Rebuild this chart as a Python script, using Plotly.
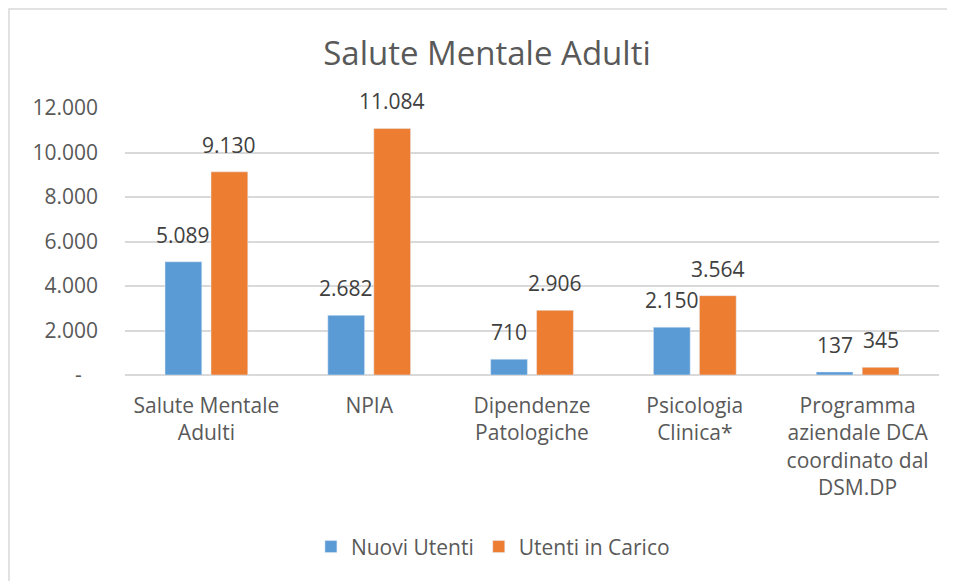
import plotly.graph_objects as go

categories = ["Salute Mentale<br>Adulti", "NPIA", "Dipendenze<br>Patologiche",
              "Psicologia<br>Clinica*", "Programma<br>aziendale DCA<br>coordinato dal<br>DSM.DP"]
nuovi_utenti = [5089, 2682, 710, 2150, 137]
utenti_in_carico = [9130, 11084, 2906, 3564, 345]
tick_vals = [0, 2000, 4000, 6000, 8000, 10000, 12000]
tick_text = ["-\u00a0\u00a0\u00a0", "2.000", "4.000", "6.000", "8.000", "10.000", "12.000"]

def fmt(v):
    return f"{v:,}".replace(",", ".")

FONT = "Open Sans"
fig = go.Figure()
fig.add_trace(go.Bar(name="Nuovi Utenti", x=categories, y=nuovi_utenti,
                     marker=dict(color="#5B9BD5")))
fig.add_trace(go.Bar(name="Utenti in Carico", x=categories, y=utenti_in_carico,
                     marker=dict(color="#ED7D31")))

# data labels placed above each bar of the group
annotations = []
for series, shift in ((nuovi_utenti, -23), (utenti_in_carico, 23)):
    for cat, v in zip(categories, series):
        annotations.append(dict(x=cat, y=v, xref="x", yref="y", text=fmt(v),
                                showarrow=False, xshift=shift, yshift=11,
                                xanchor="center", yanchor="bottom",
                                font=dict(family=FONT, size=21, color="#404040")))

# page body has an 8px margin: figure is drawn at (8,8) in the window
fig.update_layout(
    width=947, height=573,
    margin=dict(l=117, r=16, t=100, b=206),
    paper_bgcolor="white", plot_bgcolor="white",
    barmode="group", bargap=0.435, bargroupgap=0.2,
    title=dict(text="Salute Mentale Adulti", x=(487 - 8) / 947, xref="container", xanchor="center",
               y=1 - 45 / 573, yref="container", yanchor="middle",
               font=dict(family=FONT, size=33, color="#595959")),
    font=dict(family=FONT, size=21, color="#595959"),
    legend=dict(orientation="h", x=0.452, xanchor="center", y=-0.644, yanchor="middle",
                font=dict(family=FONT, size=21, color="#595959"), itemwidth=30,
                traceorder="normal"),
    annotations=annotations,
    shapes=[dict(type="rect", xref="paper", yref="paper",
                 x0=-116 / 814, x1=1.2, y0=-0.9, y1=(367 - 1) / 267,
                 line=dict(color="#D9D9D9", width=1.5), fillcolor="rgba(0,0,0,0)", layer="below")],
)
fig.update_yaxes(range=[0, 12000], tickvals=tick_vals, ticktext=tick_text,
                 showgrid=True, gridcolor="#D9D9D9", gridwidth=1.5,
                 zeroline=True, zerolinecolor="#D9D9D9", zerolinewidth=1.5,
                 showline=False, ticks="", ticklabelstandoff=26,
                 tickfont=dict(family=FONT, size=21, color="#595959"))
fig.update_xaxes(showline=False, ticks="", ticklabelstandoff=16,
                 tickfont=dict(family=FONT, size=21, color="#595959"))

fig.write_html("out.html")
